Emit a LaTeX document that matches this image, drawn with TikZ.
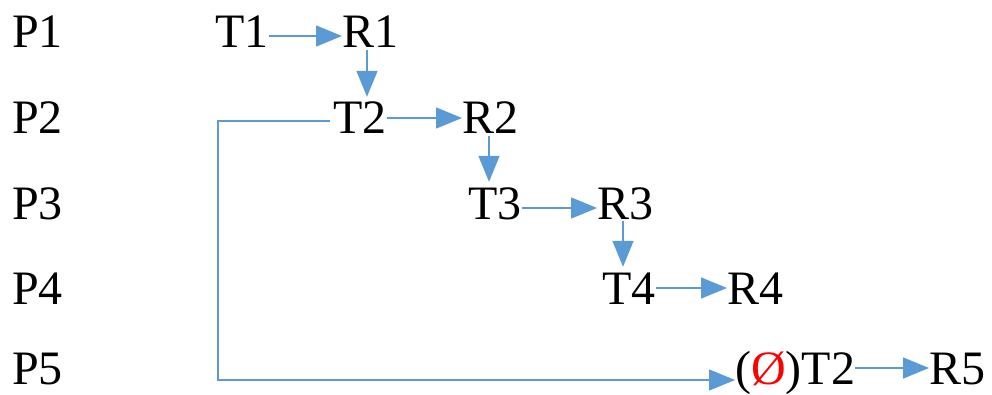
\documentclass[tikz,border=0pt]{standalone}
\usepackage{fontspec}
\setmainfont{Liberation Serif}
\usetikzlibrary{arrows.meta,calc}
\definecolor{flowblue}{HTML}{5B9BD5}
\definecolor{nullred}{HTML}{FF0000}
\begin{document}
\begin{tikzpicture}[x=1pt,y=-1pt,
  lbl/.style={anchor=west,inner sep=0pt,text height=32pt,text depth=0pt,
    font=\fontsize{48}{52}\selectfont},
  link/.style={draw=flowblue,line width=1.5pt,
    -{Triangle[length=26pt,width=21pt,fill=flowblue]}}]
\useasboundingbox (0,0) rectangle (992,395);
% process labels
\node[lbl] (p1) at (12,32) {P1};
\node[lbl] (p2) at (12,118) {P2};
\node[lbl] (p3) at (12,203) {P3};
\node[lbl] (p4) at (12,288) {P4};
\node[lbl] (p5) at (12,368) {P5};
% transactions and results
\node[lbl] (t1) at (215,32) {T1};
\node[lbl] (r1) at (342,32) {R1};
\node[lbl] (t2) at (333,118) {T2};
\node[lbl] (r2) at (462,118) {R2};
\node[lbl] (t3) at (468,203) {T3};
\node[lbl] (r3) at (597,203) {R3};
\node[lbl] (t4) at (602,288) {T4};
\node[lbl] (r4) at (727,288) {R4};
\node[lbl] (t5) at (735,368) {(\textcolor{nullred}{Ø})T2};
\node[lbl] (r5) at (929,368) {R5};
% horizontal steps
\draw[link] ([yshift=-4pt]t1.east) -- ([yshift=-4pt]r1.west);
\draw[link] ([yshift=0pt]t2.east) -- ([yshift=0pt]r2.west);
\draw[link] ([yshift=-5pt]t3.east) -- ([yshift=-5pt]r3.west);
\draw[link] (t4.east) -- (r4.west);
\draw[link] ([yshift=0pt]t5.east) -- ([yshift=0pt]r5.west);
% vertical steps
\draw[link] ($(r1.south west)+(25,2)$) coordinate (a1) -- (a1 |- {$(t2.north)+(0,-5)$});
\draw[link] ($(r2.south west)+(27,2)$) coordinate (a2) -- (a2 |- {$(t3.north)+(0,-5)$});
\draw[link] ($(r3.south west)+(26,2)$) coordinate (a3) -- (a3 |- {$(t4.north)+(0,-5)$});
% return path from T2 to the restarted T2
\draw[link] ([yshift=-3pt,xshift=-3pt]t2.west) -| (218,380) -- (t5.west |- 0,380);
\end{tikzpicture}
\end{document}
